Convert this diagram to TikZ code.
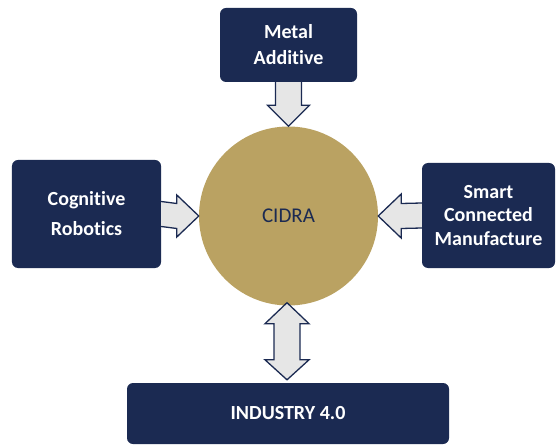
\documentclass[tikz,border=0pt]{standalone}
\usepackage{fontspec}
\setmainfont{Carlito}[Ligatures=NoCommon]
\usetikzlibrary{calc}
\definecolor{navy}{RGB}{27,42,82}
\definecolor{gold}{RGB}{186,162,98}
\definecolor{arrowgray}{RGB}{230,230,230}

\begin{document}
\begin{tikzpicture}[x=1bp, y=-1bp,
    box/.style={fill=navy, rounded corners=6bp, text=white, align=center,
      font=\bfseries\fontsize{20bp}{26bp}\selectfont},
    blockarrow/.style={draw=navy, fill=arrowgray, line width=1.3pt, line join=miter}]
    \useasboundingbox (0,0) rectangle (556,445);
% centre
    \node[circle, fill=gold, minimum size=179bp, inner sep=0pt, text=navy,
      font=\fontsize{21bp}{24bp}\selectfont] (cidra) at (288.5,216) {CIDRA};
% outer boxes
    \node[box, minimum width=137bp, minimum height=74bp] (metal) at (288.5,45) {Metal\\Additive};
    \node[box, minimum width=149bp, minimum height=108bp] (cognitive) at (86.5,214) {Cognitive\\[4bp]Robotics};
    \node[box, minimum width=133bp, minimum height=105bp, font=\bfseries\fontsize{20bp}{23.5bp}\selectfont]
      (smart) at (488.5,215.5) {Smart\\Connected\\Manufacture};
    \node[box, minimum width=322bp, minimum height=61bp] (industry) at (288,413.5) {INDUSTRY 4.0};
% block arrows
    \draw[blockarrow] ($(metal.south)+(-13,0)$) -- ($(cidra.north)+(-13,-21)$) -- ++(-8,0)
      -- (cidra.north) -- ($(cidra.north)+(21,-21)$) -- ++(-8,0) -- ($(metal.south)+(13,0)$);
    \draw[blockarrow] ($(cognitive.east)+(0,-12.5)$) -- ($(cidra.west)+(-22,-12.5)$) -- ++(0,-8.5)
      -- (cidra.west) -- ($(cidra.west)+(-22,21)$) -- ++(0,-8.5) -- ($(cognitive.east)+(0,12.5)$);
    \draw[blockarrow] ($(smart.west)+(0,-12.5)$) -- ($(cidra.east)+(23,-12.5)$) -- ++(0,-9.5)
      -- (cidra.east) -- ($(cidra.east)+(23,22)$) -- ++(0,-9.5) -- ($(smart.west)+(0,12.5)$);
% double arrow to industry
    \coordinate (dtop) at ($(cidra.south)+(-1.5,-3)$);
    \coordinate (dbot) at ($(industry.north)+(-1,-3)$);
    \draw[blockarrow] (dtop) -- ($(dtop)+(22,21)$) -- ($(dtop)+(13,21)$) -- ($(dbot)+(13,-20)$)
      -- ($(dbot)+(22,-20)$) -- (dbot) -- ($(dbot)+(-22,-20)$) -- ($(dbot)+(-13,-20)$)
      -- ($(dtop)+(-13,21)$) -- ($(dtop)+(-22,21)$) -- cycle;
\end{tikzpicture}
\end{document}
